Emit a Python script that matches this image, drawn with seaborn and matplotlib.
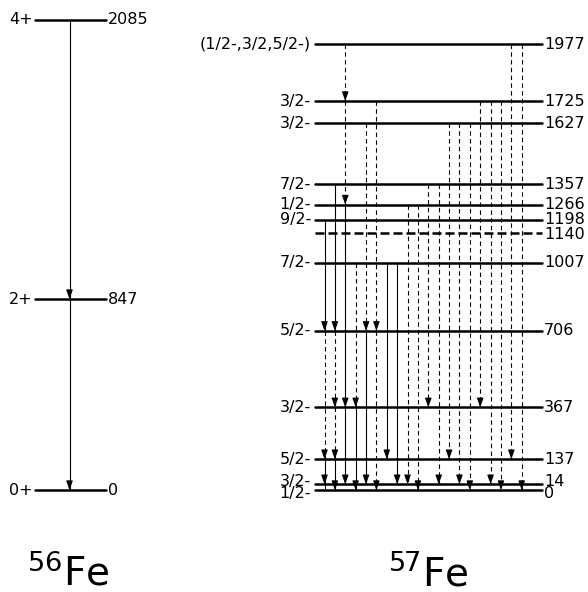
import matplotlib
matplotlib.use("Agg")
import matplotlib.pyplot as plt
import seaborn as sns
import pandas as pd

# 56Fe levels (keV) and spins
fe56_energy = [0, 847, 2085]
fe56_spin = ["0+", "2+", "4+"]
fe56_gammas = [(2085, 847), (847, 0)]

# 57Fe levels (keV) and spins
fe57_energy = [0, 14, 137, 367, 706, 1007, 1140, 1198, 1266, 1357, 1627, 1725, 1977]
fe57_spin = ["1/2-", "3/2-", "5/2-", "3/2-", "5/2-", "7/2-", "", "9/2-",
             "1/2-", "7/2-", "3/2-", "3/2-", "(1/2-,3/2,5/2-)"]
fe57_dashed_level = [1140]

# gamma transitions per column: (from, to, solid?)
fe57_columns = [
    [(1198, 706, True), (706, 137, False), (137, 14, True), (14, 0, False)],
    [(1357, 706, True), (706, 367, False), (367, 137, False), (137, 0, True)],
    [(1977, 1725, False), (1725, 1266, False), (1266, 367, True), (367, 14, True)],
    [(1007, 367, False), (367, 0, True)],
    [(1627, 706, False), (706, 14, True)],
    [(1725, 706, False), (706, 0, False)],
    [(1007, 137, True)],
    [(1007, 14, True)],
    [(1266, 14, False)],
    [(1266, 0, False)],
    [(1357, 367, False)],
    [(1357, 14, False)],
    [(1627, 137, False)],
    [(1627, 14, False)],
    [(1627, 0, False)],
    [(1725, 367, False)],
    [(1725, 14, False)],
    [(1725, 0, False)],
    [(1977, 137, False)],
    [(1977, 0, False)],
]

# drawn position of the 14 keV level (pushed up so it separates from 0)
def ypos(e):
    return 26 if e == 14 else e

sns.set_theme(style="white")
plt.rcParams["font.family"] = ["DejaVu Sans"]
plt.rcParams["text.color"] = "black"

fig = plt.figure(figsize=(5.88, 5.92), dpi=100)
ax = fig.add_axes([0, 0, 1, 1])
ax.set_xlim(0, 588)
ax.set_ylim(-452, 2173)
ax.axis("off")

# level lines through seaborn
rows = []
for e in fe56_energy:
    for x in (35, 106):
        rows.append({"x": x, "E": e, "level": "56_%d" % e, "kind": "solid"})
for e in fe57_energy:
    kind = "dashed" if e in fe57_dashed_level else "solid"
    for x in (315, 542):
        rows.append({"x": x, "E": ypos(e), "level": "57_%d" % e, "kind": kind})
levels = pd.DataFrame(rows)
sns.lineplot(data=levels, x="x", y="E", units="level", estimator=None,
             style="kind", dashes={"solid": "", "dashed": (3.6, 1.6)},
             color="black", lw=1.8, legend=False, ax=ax)

fs = 11.5
for e, s in zip(fe56_energy, fe56_spin):
    ax.text(33, e, s, ha="right", va="center", fontsize=fs)
    ax.text(108, e, str(e), ha="left", va="center", fontsize=fs)

label_nudge = {14: 14, 0: -14, 1140: -6, 1198: 2}
for e, s in zip(fe57_energy, fe57_spin):
    y = ypos(e) + label_nudge.get(e, 0)
    if s:
        ax.text(311, y, s, ha="right", va="center", fontsize=fs)
    ax.text(544, y, str(e), ha="left", va="center", fontsize=fs)

head = dict(arrowstyle="-|>,head_length=0.45,head_width=0.16", color="black",
            lw=0.8, shrinkA=0, shrinkB=0)

def gamma(x, e1, e2, solid, tip=True):
    y1, y2 = ypos(e1), ypos(e2)
    ls = "-" if solid else (0, (4, 3))
    ax.plot([x, x], [y1, y2], color="black", lw=0.8, ls=ls)
    if tip:
        ax.annotate("", xy=(x, y2), xytext=(x, y2 + 32), arrowprops=head)

for e1, e2 in fe56_gammas:
    gamma(69.5, e1, e2, True)

for i, col in enumerate(fe57_columns):
    x = 324.5 + 10.38 * i
    for e1, e2, solid in col:
        gamma(x, e1, e2, solid, tip=not (e1 == 14 and e2 == 0))

ax.text(68, -422, "$^{56}$Fe", ha="center", va="baseline", fontsize=28)
ax.text(428, -422, "$^{57}$Fe", ha="center", va="baseline", fontsize=28)

fig.savefig("out.png", dpi=100)
